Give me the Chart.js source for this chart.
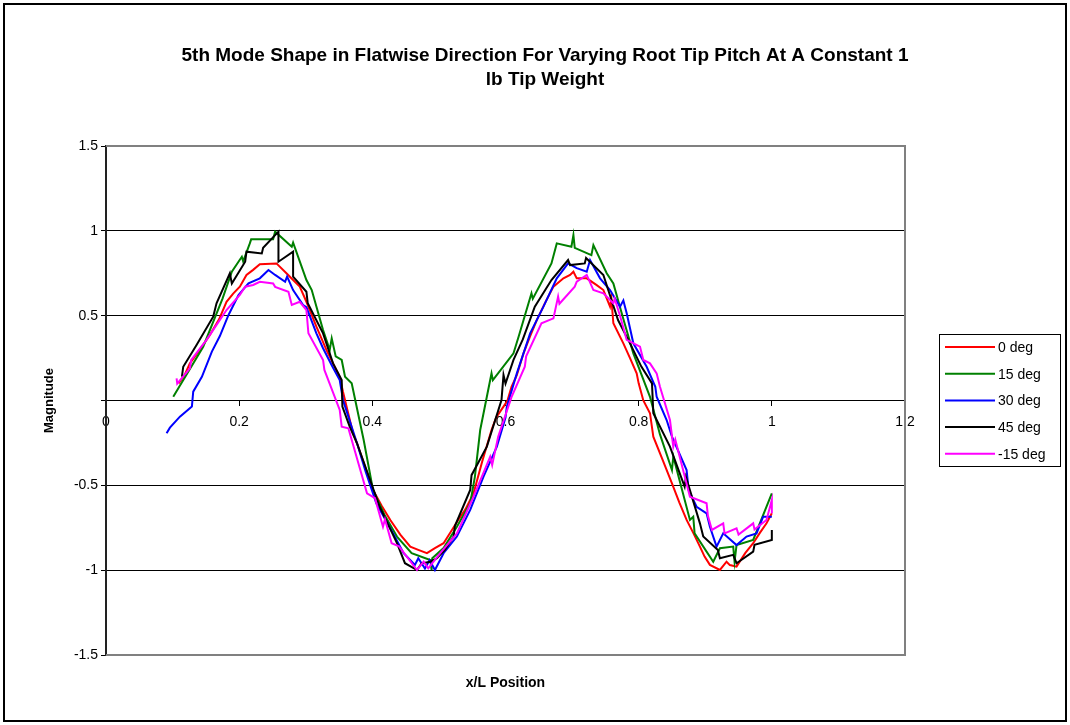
<!DOCTYPE html>
<html><head><meta charset="utf-8">
<script src="https://cdn.jsdelivr.net/npm/chart.js@4.4.0/dist/chart.umd.min.js"></script>
<style>html,body{margin:0;padding:0;background:#fff}canvas{display:block}</style>
</head><body>
<canvas id="c" width="1070" height="725"></canvas>
<script>
const seriesLabels = ['0 deg','15 deg','30 deg','45 deg','-15 deg'];
const seriesColors = ['#FF0000','#008000','#0000FF','#000000','#FF00FF'];
const xTickLabels = ['0','0.2','0.4','0.6','0.8','1','1.2'];
const yTickLabels = ['-1.5','-1','-0.5','','0.5','1','1.5'];
const titleLines = ['5th Mode Shape in Flatwise Direction For Varying Root Tip Pitch At A Constant 1','lb Tip Weight'];

// 0 deg
const x0deg = [0.109,0.118,0.126,0.141,0.156,0.170,0.181,0.191,0.201,0.211,0.221,0.231,0.256,0.271,0.281,0.291,0.301,0.316,0.331,0.351,0.356,0.371,0.377,0.389,0.401,0.414,0.427,0.442,0.457,0.469,0.482,0.494,0.507,0.529,0.540,0.552,0.565,0.579,0.586,0.597,0.603,0.609,0.617,0.627,0.637,0.647,0.660,0.672,0.687,0.697,0.702,0.707,0.722,0.737,0.747,0.757,0.759,0.762,0.777,0.787,0.797,0.800,0.807,0.817,0.822,0.836,0.850,0.861,0.872,0.882,0.892,0.899,0.907,0.922,0.932,0.937,0.947,0.960,0.972,0.982,0.992,1.000];
const y0deg = [0.101,0.150,0.219,0.300,0.386,0.480,0.582,0.630,0.671,0.740,0.770,0.803,0.808,0.750,0.710,0.671,0.582,0.435,0.298,0.140,0.050,-0.193,-0.252,-0.390,-0.527,-0.620,-0.704,-0.790,-0.861,-0.880,-0.900,-0.870,-0.841,-0.704,-0.640,-0.547,-0.360,-0.174,-0.100,-0.036,0.000,0.081,0.150,0.278,0.380,0.474,0.580,0.671,0.720,0.740,0.759,0.720,0.720,0.680,0.651,0.553,0.600,0.455,0.337,0.250,0.160,0.101,0.000,-0.075,-0.213,-0.350,-0.488,-0.600,-0.704,-0.780,-0.861,-0.920,-0.969,-0.999,-0.950,-0.970,-0.979,-0.900,-0.841,-0.780,-0.724,-0.665];

// 15 deg
const x15deg = [0.101,0.146,0.175,0.189,0.204,0.206,0.216,0.218,0.251,0.254,0.279,0.281,0.301,0.309,0.326,0.336,0.339,0.345,0.354,0.359,0.369,0.387,0.401,0.419,0.437,0.459,0.487,0.489,0.490,0.507,0.527,0.547,0.554,0.562,0.577,0.579,0.581,0.612,0.620,0.639,0.641,0.669,0.677,0.699,0.702,0.704,0.729,0.732,0.752,0.762,0.777,0.792,0.817,0.832,0.850,0.852,0.877,0.882,0.884,0.912,0.922,0.942,0.944,0.947,0.972,1.000];
const y15deg = [0.022,0.317,0.600,0.759,0.847,0.820,0.926,0.950,0.950,0.995,0.906,0.930,0.710,0.651,0.415,0.298,0.366,0.260,0.239,0.140,0.101,-0.233,-0.527,-0.680,-0.802,-0.900,-0.940,-0.999,-0.930,-0.870,-0.744,-0.606,-0.450,-0.174,0.121,0.160,0.120,0.278,0.380,0.632,0.600,0.808,0.926,0.906,0.975,0.900,0.857,0.916,0.750,0.690,0.480,0.278,0.022,-0.200,-0.410,-0.330,-0.704,-0.685,-0.783,-0.950,-0.871,-0.861,-0.950,-0.852,-0.822,-0.547];

// 30 deg
const x30deg = [0.091,0.096,0.111,0.129,0.131,0.144,0.159,0.171,0.184,0.199,0.214,0.231,0.244,0.254,0.269,0.272,0.281,0.296,0.301,0.316,0.326,0.340,0.351,0.356,0.366,0.377,0.390,0.406,0.431,0.447,0.464,0.469,0.479,0.486,0.494,0.507,0.527,0.547,0.567,0.587,0.600,0.602,0.617,0.637,0.657,0.677,0.694,0.707,0.722,0.727,0.742,0.757,0.772,0.777,0.782,0.792,0.812,0.825,0.827,0.842,0.850,0.872,0.875,0.887,0.902,0.907,0.917,0.927,0.947,0.962,0.977,0.987,1.000];
const y30deg = [-0.193,-0.160,-0.095,-0.036,0.052,0.140,0.288,0.380,0.504,0.622,0.690,0.720,0.769,0.740,0.700,0.730,0.651,0.563,0.550,0.396,0.308,0.200,0.121,0.003,-0.120,-0.252,-0.420,-0.606,-0.783,-0.900,-0.969,-0.930,-0.990,-0.940,-0.999,-0.900,-0.802,-0.645,-0.449,-0.272,-0.100,-0.036,0.160,0.396,0.553,0.720,0.808,0.780,0.759,0.828,0.720,0.651,0.553,0.590,0.514,0.337,0.199,0.081,0.022,-0.115,-0.213,-0.410,-0.527,-0.626,-0.665,-0.744,-0.861,-0.783,-0.852,-0.802,-0.783,-0.685,-0.685];

// 45 deg
const x45deg = [0.114,0.116,0.136,0.161,0.166,0.186,0.189,0.209,0.211,0.234,0.236,0.259,0.259,0.281,0.281,0.301,0.303,0.326,0.341,0.354,0.355,0.366,0.377,0.411,0.437,0.449,0.467,0.474,0.487,0.497,0.509,0.522,0.524,0.547,0.549,0.572,0.594,0.597,0.600,0.612,0.626,0.644,0.669,0.694,0.697,0.719,0.721,0.747,0.769,0.787,0.804,0.820,0.822,0.847,0.869,0.871,0.892,0.897,0.919,0.922,0.942,0.947,0.972,0.974,1.000,1.000];
const y45deg = [0.140,0.199,0.327,0.494,0.573,0.750,0.690,0.818,0.877,0.867,0.900,0.995,0.818,0.877,0.730,0.641,0.573,0.396,0.219,0.121,-0.036,-0.154,-0.252,-0.626,-0.841,-0.959,-0.999,-0.960,-0.950,-0.930,-0.880,-0.802,-0.740,-0.527,-0.440,-0.272,0.003,0.150,0.100,0.239,0.360,0.553,0.710,0.828,0.798,0.808,0.840,0.740,0.474,0.337,0.200,0.101,-0.075,-0.272,-0.508,-0.450,-0.724,-0.802,-0.881,-0.930,-0.910,-0.959,-0.891,-0.850,-0.822,-0.763];

// -15 deg
const xm15deg = [0.106,0.107,0.126,0.128,0.151,0.181,0.201,0.209,0.221,0.231,0.251,0.254,0.274,0.279,0.291,0.301,0.304,0.326,0.328,0.351,0.354,0.364,0.392,0.404,0.416,0.419,0.429,0.440,0.467,0.477,0.484,0.502,0.527,0.552,0.577,0.580,0.589,0.609,0.629,0.631,0.654,0.672,0.679,0.681,0.704,0.707,0.722,0.732,0.747,0.762,0.764,0.772,0.782,0.802,0.807,0.817,0.827,0.832,0.847,0.852,0.855,0.877,0.902,0.904,0.910,0.927,0.929,0.947,0.950,0.972,0.974,0.992,1.000,1.000];
const ym15deg = [0.131,0.100,0.190,0.239,0.357,0.533,0.622,0.671,0.681,0.700,0.690,0.670,0.641,0.563,0.582,0.533,0.396,0.239,0.180,-0.056,-0.154,-0.164,-0.547,-0.576,-0.744,-0.700,-0.841,-0.860,-0.999,-0.950,-0.989,-0.900,-0.783,-0.567,-0.331,-0.380,-0.213,0.020,0.199,0.260,0.455,0.484,0.612,0.570,0.671,0.700,0.740,0.651,0.632,0.573,0.600,0.500,0.357,0.317,0.239,0.219,0.160,0.081,-0.115,-0.272,-0.230,-0.567,-0.606,-0.680,-0.763,-0.724,-0.783,-0.753,-0.790,-0.724,-0.760,-0.704,-0.586,-0.665];

const seriesX = [x0deg, x15deg, x30deg, x45deg, xm15deg];
const seriesY = [y0deg, y15deg, y30deg, y45deg, ym15deg];

const FONT = '"Liberation Sans", Arial, sans-serif';
Chart.defaults.font.family = FONT;
Chart.defaults.color = '#000';

const datasets = seriesLabels.map((lab, i) => ({
  label: lab,
  data: seriesX[i].map((x, j) => ({x: x, y: seriesY[i][j]})),
  borderColor: seriesColors[i],
  backgroundColor: seriesColors[i],
  borderWidth: 2,
  pointRadius: 0,
  pointHoverRadius: 0,
  showLine: true,
  fill: false,
  tension: 0,
  order: seriesLabels.length - i
}));

const bgPlugin = {
  id: 'bgFrame',
  beforeDraw(chart) {
    const ctx = chart.ctx;
    ctx.save();
    ctx.fillStyle = '#fff';
    ctx.fillRect(0, 0, chart.width, chart.height);
    ctx.strokeStyle = '#000';
    ctx.lineWidth = 2;
    ctx.strokeRect(4, 4, chart.width - 8, chart.height - 8);
    ctx.restore();
  },
  beforeDatasetsDraw(chart) {
    const {left, right, top, bottom} = chart.chartArea;
    const ctx = chart.ctx;
    ctx.save();
    ctx.strokeStyle = '#808080';
    ctx.lineWidth = 2;
    ctx.beginPath();
    ctx.moveTo(left, top);
    ctx.lineTo(right, top);
    ctx.lineTo(right, bottom);
    ctx.lineTo(left, bottom);
    ctx.stroke();
    ctx.restore();
  }
};

const legendPlugin = {
  id: 'boxLegend',
  afterDraw(chart) {
    const ctx = chart.ctx;
    ctx.save();
    ctx.strokeStyle = '#000';
    ctx.lineWidth = 1;
    ctx.strokeRect(939.5, 334.5, 121, 132);
    chart.data.datasets.forEach((ds, i) => {
      const y = 347 + i * 26.7;
      ctx.strokeStyle = ds.borderColor;
      ctx.lineWidth = 2;
      ctx.beginPath();
      ctx.moveTo(945, y);
      ctx.lineTo(995, y);
      ctx.stroke();
      ctx.fillStyle = '#000';
      ctx.font = '14px ' + FONT;
      ctx.textBaseline = 'middle';
      ctx.textAlign = 'left';
      ctx.fillText(ds.label, 998, y + 1);
    });
    ctx.restore();
  }
};

new Chart(document.getElementById('c'), {
  type: 'scatter',
  data: { datasets: datasets },
  plugins: [bgPlugin, legendPlugin],
  options: {
    responsive: false,
    animation: false,
    devicePixelRatio: 1,
    layout: { padding: { left: 20, right: 0, top: 0, bottom: 0 } },
    plugins: {
      legend: { display: false },
      tooltip: { enabled: false },
      title: {
        display: true,
        text: titleLines,
        color: '#000',
        font: { size: 19, weight: 'bold', lineHeight: 1.2632 },
        padding: { top: 44, bottom: 54 }
      }
    },
    scales: {
      x: {
        type: 'linear',
        position: { y: 0 },
        min: 0, max: 1.2,
        ticks: { stepSize: 0.2, color: '#000', font: { size: 14 }, padding: 8, maxRotation: 0, autoSkip: false,
                 callback: (v, i) => xTickLabels[i] },
        grid: { drawOnChartArea: false, drawTicks: true, tickLength: 5, tickColor: '#000' },
        border: { display: true, color: '#000', width: 1 }
      },
      xb: {
        type: 'linear',
        position: 'bottom',
        min: 0, max: 1.2,
        ticks: { display: false },
        grid: { display: false, drawTicks: false },
        border: { display: false },
        title: { display: true, text: 'x/L Position', color: '#000', font: { size: 14, weight: 'bold' }, padding: { top: 0, bottom: 33.6 } },
        afterFit: s => { s.height = 70; }
      },
      y: {
        type: 'linear',
        position: 'left',
        min: -1.5, max: 1.5,
        ticks: { stepSize: 0.5, color: '#000', font: { size: 14 }, padding: 3,
                 callback: (v, i) => yTickLabels[i] },
        grid: {
          color: c => (c.tick && Math.abs(c.tick.value) > 1.4) ? 'rgba(0,0,0,0)' : '#000',
          lineWidth: 1, drawTicks: true, tickLength: 5, tickColor: '#000'
        },
        border: { display: true, color: '#222', width: 2 },
        title: { display: true, text: 'Magnitude', color: '#000', font: { size: 13, weight: 'bold' }, padding: { top: 22, bottom: 0 } },
        afterFit: s => { s.width = 86; }
      },
      yr: {
        type: 'linear',
        position: 'right',
        ticks: { display: false },
        grid: { display: false, drawTicks: false },
        border: { display: false },
        afterFit: s => { s.width = 165; }
      }
    }
  }
});
</script>
</body></html>
